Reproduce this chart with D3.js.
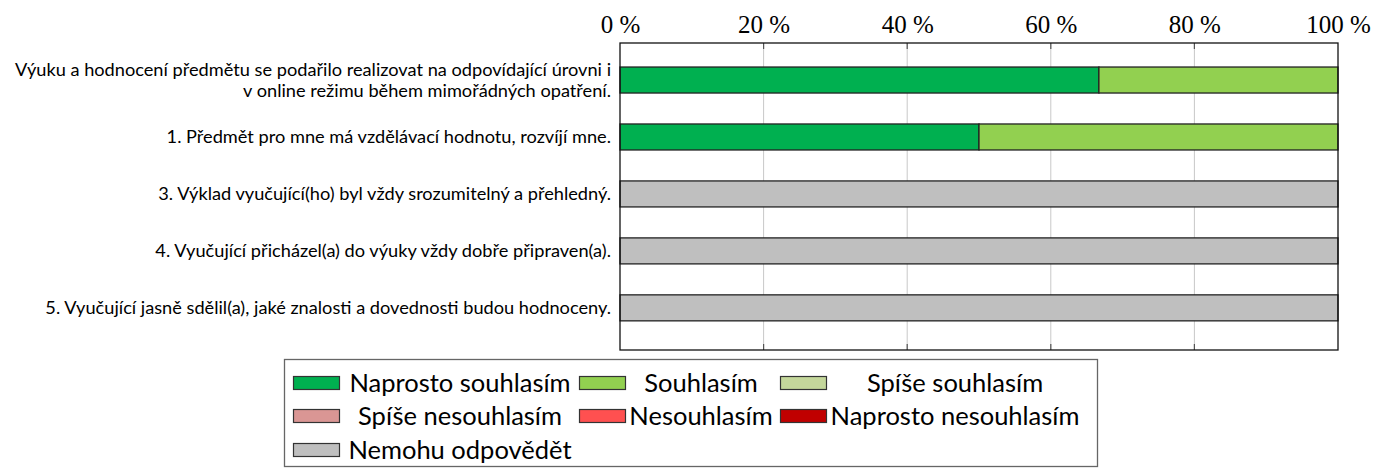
<!DOCTYPE html>
<html>
<head>
<meta charset="utf-8">
<script src="https://cdn.jsdelivr.net/npm/d3@7"></script>
<style>
  body { margin: 0; background: #fff; }
  svg { display: block; }
  .ylab { font-family: Lato, "Open Sans", sans-serif; font-size: 18.2px; fill: #000; }
  .tick text { font-family: "Liberation Serif", serif; font-size: 25px; fill: #000; }
  .leg text { font-family: Lato, "Open Sans", sans-serif; font-size: 25.5px; fill: #000; }
</style>
</head>
<body>
<div id="chart"></div>
<script>
// questions, top to bottom (each may wrap to two lines)
const questions = [
  ['Výuku a hodnocení předmětu se podařilo realizovat na odpovídající úrovni i', 'v online režimu během mimořádných opatření.'],
  ['1. Předmět pro mne má vzdělávací hodnotu, rozvíjí mne.'],
  ['3. Výklad vyučující(ho) byl vždy srozumitelný a přehledný.'],
  ['4. Vyučující přicházel(a) do výuky vždy dobře připraven(a).'],
  ['5. Vyučující jasně sdělil(a), jaké znalosti a dovednosti budou hodnoceny.']
];

const answers = ['Naprosto souhlasím', 'Souhlasím', 'Spíše souhlasím', 'Spíše nesouhlasím',
  'Nesouhlasím', 'Naprosto nesouhlasím', 'Nemohu odpovědět'];
const colors = ['#00b050', '#92d050', '#c4d79b', '#da9694', '#ff5050', '#c00000', '#bfbfbf'];

// percent per answer, one array per question
const shares = [
  [66.7, 33.3, 0, 0, 0, 0, 0],
  [50, 50, 0, 0, 0, 0, 0],
  [0, 0, 0, 0, 0, 0, 100],
  [0, 0, 0, 0, 0, 0, 100],
  [0, 0, 0, 0, 0, 0, 100]
];

const xTicks = [0, 20, 40, 60, 80, 100];

let width = 1374, height = 468;
let pLeft = 620, pRight = 1338, pTop = 43, pBottom = 350;

let svg = d3.select('#chart').append('svg').attr('width', width).attr('height', height);

let x = d3.scaleLinear().domain([0, 100]).range([pLeft, pRight]);
let y = d3.scaleLinear().domain([-0.65, 4.74]).range([pTop, pBottom]);
let barH = 26;

// grid
svg.append('g').selectAll('line')
  .data(xTicks.slice(1, -1))
  .join('line')
  .attr('x1', d => x(d)).attr('x2', d => x(d))
  .attr('y1', pTop).attr('y2', pBottom)
  .attr('stroke', '#c8c8c8').attr('stroke-width', 1);

// small tick marks at top and bottom
let tickMarks = svg.append('g');
xTicks.slice(1, -1).forEach(t => {
  tickMarks.append('line').attr('x1', x(t)).attr('x2', x(t)).attr('y1', pTop).attr('y2', pTop + 6)
    .attr('stroke', '#555').attr('stroke-width', 1.2);
  tickMarks.append('line').attr('x1', x(t)).attr('x2', x(t)).attr('y1', pBottom - 6).attr('y2', pBottom)
    .attr('stroke', '#555').attr('stroke-width', 1.2);
});

// stacked bars
let stacked = shares.map((row, i) => {
  let acc = 0;
  return row.map((v, k) => { let s = {q: i, k: k, x0: acc, x1: acc + v}; acc += v; return s; })
    .filter(s => s.x1 > s.x0);
});

svg.append('g').selectAll('rect')
  .data(stacked.flat())
  .join('rect')
  .attr('x', d => x(d.x0))
  .attr('width', d => x(d.x1) - x(d.x0))
  .attr('y', d => y(d.q) - barH / 2)
  .attr('height', barH)
  .attr('fill', d => colors[d.k])
  .attr('stroke', '#222').attr('stroke-width', 1.3);

// frame
svg.append('rect')
  .attr('x', pLeft).attr('y', pTop).attr('width', pRight - pLeft).attr('height', pBottom - pTop)
  .attr('fill', 'none').attr('stroke', '#111').attr('stroke-width', 1.3);

// top axis labels
let axis = d3.axisTop(x).tickValues(xTicks).tickSize(0).tickPadding(10).tickFormat(d => d + ' %');
svg.append('g').attr('transform', `translate(0,${pTop})`).call(axis)
  .call(g => g.select('.domain').remove());

// question labels
let labels = svg.append('g');
questions.forEach((lines, i) => {
  let t = labels.append('text').attr('class', 'ylab').attr('text-anchor', 'end');
  let lh = 21;
  let y0 = y(i) - (lines.length - 1) * lh / 2 + 6.5;
  lines.forEach((l, j) => t.append('tspan').attr('x', pLeft - 9).attr('y', y0 + j * lh).text(l));
});

// legend
let leg = svg.append('g').attr('class', 'leg');
leg.append('rect').attr('x', 284.5).attr('y', 359.5).attr('width', 813).attr('height', 107)
  .attr('fill', '#fff').attr('stroke', '#666').attr('stroke-width', 1.3);

// columns: swatch x and text center x; rows: center y
let legCols = [{sx: 293, tx: 460}, {sx: 579, tx: 701}, {sx: 780, tx: 955}];
let legRows = [383, 416, 450];

answers.forEach((a, i) => {
  let c = legCols[i % 3], r = legRows[Math.floor(i / 3)];
  leg.append('rect').attr('x', c.sx + 0.5).attr('y', r - 6.5).attr('width', 46).attr('height', 13)
    .attr('fill', colors[i]).attr('stroke', '#333').attr('stroke-width', 1.2);
  leg.append('text').attr('x', c.tx).attr('y', r + 8.5).attr('text-anchor', 'middle').text(a);
});
</script>
</body>
</html>
